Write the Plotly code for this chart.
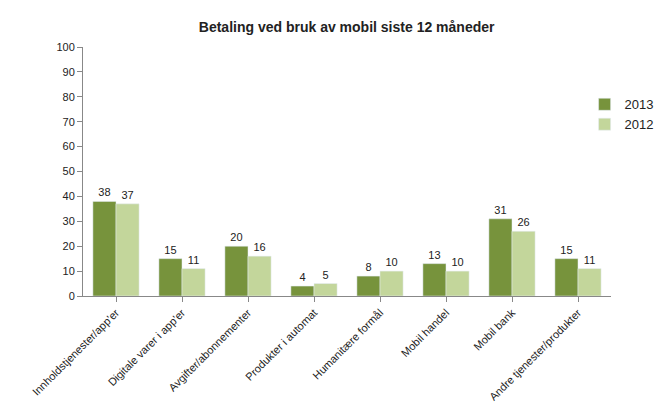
import plotly.graph_objects as go

categories = ["Innholdstjenester/app'er", "Digitale varer i app'er", "Avgifter/abonnementer",
              "Produkter i automat", "Humanitære formål", "Mobil handel", "Mobil bank",
              "Andre tjenester/produkter"]
values_2013 = [38, 15, 20, 4, 8, 13, 31, 15]
values_2012 = [37, 11, 16, 5, 10, 10, 26, 11]

fig = go.Figure()
fig.add_trace(go.Bar(x=categories, y=values_2013, name="2013", marker_color="#77933C",
                     text=values_2013, textposition="outside", cliponaxis=False))
fig.add_trace(go.Bar(x=categories, y=values_2012, name="2012", marker_color="#C3D69B",
                     text=values_2012, textposition="outside", cliponaxis=False))

fig.update_layout(
    width=664, height=409,
    title=dict(text="<b>Betaling ved bruk av mobil siste 12 måneder</b>", x=0.51, y=0.965,
               font=dict(size=14, color="#222")),
    font=dict(family="Liberation Sans, Arial", size=11, color="#222"),
    margin=dict(l=75, r=61, t=39, b=121),
    plot_bgcolor="white", paper_bgcolor="white",
    bargap=0.3, bargroupgap=0,
    legend=dict(x=0.95, y=0.83, xanchor="left", yanchor="top", tracegroupgap=14,
                font=dict(size=13), bgcolor="rgba(0,0,0,0)"),
    uniformtext=dict(minsize=11, mode="show"),
)
fig.update_xaxes(tickangle=-45, showline=True, linecolor="#888", ticks="outside",
                 tickcolor="#888", tickfont=dict(size=11), automargin=False)
fig.update_yaxes(range=[0, 100], dtick=10, showline=True, linecolor="#888", ticks="outside",
                 tickcolor="#888", showgrid=False, zeroline=False, tickfont=dict(size=11),
                 automargin=False)
fig.update_traces(textfont=dict(size=11, color="#222"),
                  outsidetextfont=dict(size=11, color="#222"))

fig.write_html("out.html")
